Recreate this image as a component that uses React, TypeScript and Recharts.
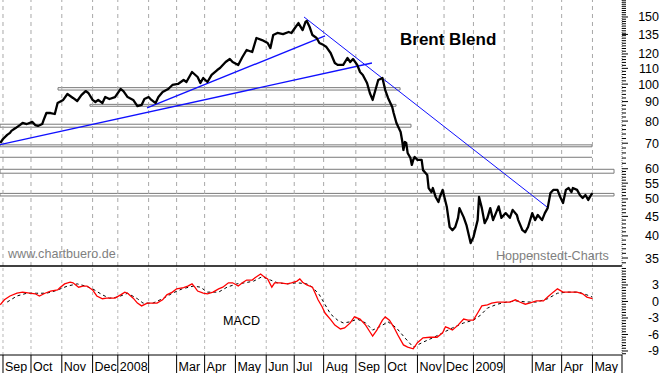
import React from 'react';
import { ComposedChart, Line, XAxis, YAxis, ReferenceLine, ReferenceArea } from 'recharts';

// ---------- axes / categories (x = trading-day index, 0 = first trading day of Sep 2007) ----------
const X_DOMAIN: [number, number] = [-2.14, 442.1];
const monthStarts = [0, 20, 42, 64, 82, 104, 124, 144, 166, 188, 208, 229, 252, 273, 296, 315, 336, 358, 378, 399, 421];
const monthLabels = ['Sep', 'Oct', 'Nov', 'Dec', '2008', '', 'Mar', 'Apr', 'May', 'Jun', 'Jul', 'Aug', 'Sep', 'Oct', 'Nov', 'Dec', '2009', '', 'Mar', 'Apr', 'May'];

const PRICE_DOMAIN: [number, number] = [33.35, 166.2];
const priceLabels = [35, 40, 45, 50, 55, 60, 70, 80, 90, 100, 110, 120, 135, 150];
const MACD_DOMAIN: [number, number] = [-9.73, 6.45];
const macdLabels = [3, 0, -3, -6, -9];

// ---------- series: [trading day, value] ----------
const price: [number, number][] = [
  [-2, 70.1], [0, 71.8], [3, 73.6], [5, 74.5], [6, 75.4], [9, 76.7], [12, 78.1], [14, 79.1], [17, 78.6], [21, 79.6],
  [23, 78.1], [25, 77.7], [28, 78.6], [29, 80.5], [31, 84.0], [34, 84.0], [37, 83.5], [39, 89.2], [43, 90.9], [46, 94.2],
  [50, 92.0], [53, 90.3], [56, 93.6], [59, 95.9], [61, 94.8], [64, 90.9], [66, 89.8], [68, 90.9], [71, 89.2], [73, 92.5],
  [76, 91.4], [80, 92.5], [84, 97.1], [86, 95.9], [89, 92.5], [93, 90.9], [96, 87.6], [99, 88.2], [101, 91.4], [104, 92.5],
  [106, 90.9], [109, 89.2], [111, 92.5], [114, 95.4], [118, 97.1], [121, 99.5], [125, 100.1], [129, 102.5], [131, 101.3], [135, 107.6],
  [139, 104.4], [141, 100.7], [143, 103.8], [146, 101.3], [149, 105.7], [153, 108.9], [155, 110.2], [159, 114.3], [162, 116.4], [164, 114.3],
  [168, 112.3], [171, 117.8], [174, 122.9], [178, 121.4], [181, 132.1], [185, 130.5], [189, 128.2], [191, 124.3], [193, 134.5], [196, 136.2],
  [200, 135.3], [204, 137.0], [206, 136.2], [209, 141.2], [211, 144.6], [214, 138.6], [216, 145.5], [217, 146.4], [219, 141.2], [221, 134.5],
  [224, 132.1], [226, 128.2], [229, 126.6], [231, 125.1], [234, 120.7], [237, 113.6], [239, 112.3], [243, 112.3], [246, 117.1], [248, 114.3],
  [250, 116.4], [253, 112.3], [255, 107.6], [257, 105.7], [260, 100.7], [262, 94.8], [264, 90.9], [266, 96.5], [268, 102.5], [271, 103.8],
  [273, 96.5], [275, 92.0], [278, 87.1], [279, 84.0], [281, 79.1], [284, 74.9], [285, 71.4], [286, 67.2], [287, 70.5], [288, 70.1],
  [289, 66.0], [291, 64.0], [292, 61.4], [293, 63.3], [294, 64.4], [296, 63.3], [299, 63.3], [300, 59.5], [303, 57.8], [304, 53.4],
  [306, 52.1], [307, 53.4], [309, 50.6], [311, 49.1], [312, 50.6], [314, 52.8], [317, 47.6], [319, 42.2], [321, 41.4], [323, 42.2],
  [325, 44.6], [326, 47.3], [329, 44.8], [331, 42.7], [334, 38.3], [336, 39.7], [339, 44.0], [340, 50.6], [342, 47.3], [344, 43.2],
  [346, 44.6], [348, 47.3], [350, 44.0], [354, 47.8], [356, 44.6], [359, 45.9], [362, 44.6], [364, 46.8], [367, 45.4], [368, 44.0],
  [371, 41.4], [373, 40.9], [375, 42.2], [378, 45.9], [380, 44.0], [382, 45.4], [385, 44.0], [387, 45.9], [389, 47.3], [391, 51.8],
  [393, 52.8], [396, 52.8], [398, 50.6], [400, 48.8], [402, 52.8], [404, 53.4], [406, 52.1], [407, 53.4], [410, 52.8], [412, 51.2],
  [414, 50.3], [416, 51.2], [418, 49.7], [420, 51.2], [421, 51.8],
];

const macd: [number, number][] = [
  [-2, -0.6], [1, 0.3], [5, 1.0], [10, 1.5], [14, 1.7], [19, 1.5], [23, 1.4], [26, 1.0], [30, 1.5], [34, 1.9],
  [39, 2.1], [41, 2.6], [44, 3.2], [48, 3.5], [50, 3.4], [54, 2.6], [57, 2.8], [60, 2.8], [64, 2.1], [67, 1.0],
  [71, 0.5], [74, 0.6], [80, 0.6], [84, 1.2], [87, 1.7], [89, 1.5], [93, 0.6], [96, -0.3], [99, -0.8], [103, -0.3],
  [106, -0.3], [110, -0.3], [114, 0.3], [117, 1.2], [121, 1.7], [124, 2.3], [129, 2.5], [132, 2.8], [135, 3.2], [137, 2.6],
  [139, 1.9], [143, 1.5], [146, 1.4], [150, 1.7], [154, 2.3], [157, 2.6], [161, 3.4], [164, 3.4], [168, 2.8], [171, 3.4],
  [174, 3.9], [178, 3.9], [180, 4.3], [184, 5.0], [186, 4.6], [189, 4.1], [192, 2.6], [194, 3.4], [198, 3.4], [203, 3.2],
  [206, 3.4], [210, 3.7], [212, 4.1], [214, 3.5], [217, 3.0], [221, 2.6], [223, 1.5], [225, 0.3], [228, -1.0], [230, -2.1],
  [234, -3.3], [237, -4.3], [241, -5.0], [244, -4.8], [248, -3.9], [251, -2.8], [255, -3.2], [259, -4.3], [262, -5.5], [264, -6.3],
  [267, -5.2], [271, -3.4], [273, -2.8], [276, -3.4], [279, -4.6], [282, -6.1], [286, -7.9], [289, -8.3], [293, -8.6], [296, -7.5],
  [300, -6.6], [305, -6.5], [310, -6.5], [314, -5.7], [316, -4.6], [318, -4.8], [321, -5.2], [325, -4.3], [329, -3.2], [332, -3.4],
  [336, -3.4], [339, -2.1], [342, -0.8], [346, -0.6], [349, -0.3], [353, -0.1], [357, -0.1], [362, -0.1], [366, 0.3], [369, -0.1],
  [373, -0.5], [376, -0.3], [381, 0.1], [386, 0.1], [389, 0.8], [393, 1.7], [396, 2.3], [400, 1.7], [405, 1.7], [410, 1.7],
  [414, 1.4], [417, 0.8], [421, 0.5],
];

const signal: [number, number][] = [
  [3, -0.1], [10, 1.0], [17, 1.5], [24, 1.5], [31, 1.5], [37, 1.9], [46, 2.8], [53, 3.2], [59, 2.8], [64, 2.3],
  [71, 1.2], [76, 0.6], [82, 0.8], [89, 1.5], [96, 0.5], [100, -0.3], [107, -0.3], [114, 0.5], [121, 1.5], [128, 2.3],
  [136, 2.8], [141, 2.6], [146, 1.7], [154, 1.7], [160, 2.6], [167, 3.2], [173, 3.4], [179, 3.7], [185, 4.5], [191, 3.9],
  [196, 3.4], [203, 3.2], [210, 3.4], [217, 3.2], [221, 2.6], [226, 1.2], [234, -2.3], [239, -3.4], [243, -3.9], [248, -3.7],
  [253, -3.2], [259, -3.9], [264, -5.2], [269, -4.6], [275, -3.7], [281, -4.8], [287, -6.6], [293, -8.3], [300, -7.4], [307, -6.6],
  [314, -5.7], [321, -4.8], [329, -3.9], [336, -3.4], [341, -2.5], [346, -1.2], [353, -0.5], [360, -0.1], [367, 0.1], [374, -0.1],
  [381, -0.1], [389, 0.5], [396, 1.5], [403, 1.7], [411, 1.7], [417, 1.2], [421, 0.8],
];

// trend lines: [startDay, startPrice, endDay, endPrice]
const trendLower = [-2.1, 69.4, 263.5, 113.6];
const trendUpper = [102.9, 86.6, 230, 133.8];
const trendDown = [215, 150.0, 388.6, 47.6];

// horizontal support / resistance bands
const bandStart = [39.3, 62.1, -2.14, -2.14, -2.14, -2.14];
const bandEnd = [283.6, 280.7, 291.4, 420.7, 436.4, 436.4];
const bandLow = [96.5, 87.5, 77.1, 68.5, 58.4, 50.9];
const bandHigh = [97.9, 88.5, 78.5, 69.3, 59.8, 51.7];
const singleLevel = 64.3;
const singleLevelEnd = 420.7;

// ---------- helpers ----------
const toPts = (arr: [number, number][], key: string) => arr.map(([t, v]) => ({ t, [key]: v }));
const seg = (a: number[]) => [{ t: a[0], p: a[1] }, { t: a[2], p: a[3] }];

const priceData = toPts(price, 'p');
const macdData = toPts(macd, 'v');
const signalData = toPts(signal, 'v');

const priceTicks: number[] = [];
for (let v = 34; v <= 60; v += 1) priceTicks.push(v);
for (let v = 62; v <= 166; v += 2) priceTicks.push(v);
priceLabels.forEach((v) => { if (!priceTicks.includes(v)) priceTicks.push(v); });
priceTicks.sort((a, b) => a - b);

const macdTicks: number[] = [];
for (let v = -9.5; v <= 6.0; v += 0.5) macdTicks.push(v);

const FONT = '"Liberation Sans", Arial, sans-serif';

function PriceTick(props: any) {
  const { x, y, payload } = props;
  const v = payload.value;
  const major = priceLabels.includes(v);
  return (
    <g>
      <line x1={x} x2={x + (major ? 6 : 4)} y1={y} y2={y} stroke="#000" strokeWidth={1} />
      {major && (
        <text x={x + 37} y={y + 4.5} textAnchor="end" fontSize={12.5} fill="#000" fontFamily={FONT}>{v}</text>
      )}
    </g>
  );
}

function MacdTick(props: any) {
  const { x, y, payload } = props;
  const v = payload.value;
  const major = macdLabels.includes(v);
  return (
    <g>
      <line x1={x} x2={x + (major ? 6 : 4)} y1={y} y2={y} stroke="#000" strokeWidth={1} />
      {major && (
        <text x={x + 37} y={y + 4.5} textAnchor="end" fontSize={12.5} fill="#000" fontFamily={FONT}>{v}</text>
      )}
    </g>
  );
}

function MonthTick(props: any) {
  const { x, y, payload } = props;
  const i = monthStarts.indexOf(payload.value);
  const label = i >= 0 ? monthLabels[i] : '';
  return (
    <g>
      <line x1={x} x2={x} y1={y} y2={y + 18} stroke="#000" strokeWidth={1} />
      {label && (
        <text x={x + 2} y={y + 16} fontSize={12.5} fill="#000" fontFamily={FONT}>{label}</text>
      )}
    </g>
  );
}

export default function App() {
  return (
    <div style={{ position: 'absolute', left: 0, top: 0, width: 663, height: 373, background: '#fff', overflow: 'hidden' }}>
      <div style={{ position: 'absolute', left: 0, top: 0 }}>
        <ComposedChart width={663} height={267} margin={{ top: 0, right: 0, bottom: 1, left: 0 }}>
          <XAxis type="number" dataKey="t" domain={X_DOMAIN} allowDataOverflow hide />
          <YAxis
            orientation="right"
            width={41}
            scale="log"
            domain={PRICE_DOMAIN}
            allowDataOverflow
            ticks={priceTicks}
            interval={0}
            tickSize={0}
            tickMargin={0}
            tickLine={false}
            axisLine={{ stroke: '#777', strokeDasharray: '1 1' }}
            tick={(p: any) => <PriceTick {...p} />}
          />
          {monthStarts.map((m) => (
            <ReferenceLine key={'g' + m} x={m} stroke="#a8a8a8" strokeDasharray="4 4" />
          ))}
          {bandLow.map((lo, i) => (
            <ReferenceArea
              key={'b' + i}
              x1={bandStart[i]}
              x2={bandEnd[i]}
              y1={lo}
              y2={bandHigh[i]}
              fill="none"
              fillOpacity={0}
              stroke="#7a7a7a"
              strokeWidth={1}
            />
          ))}
          <ReferenceLine
            segment={[{ x: X_DOMAIN[0], y: singleLevel }, { x: singleLevelEnd, y: singleLevel }]}
            stroke="#7a7a7a"
            strokeWidth={1}
          />
          <ReferenceLine y={PRICE_DOMAIN[0]} stroke="#000" strokeWidth={1.5} />
          <Line data={seg(trendLower)} dataKey="p" stroke="#1010ff" strokeWidth={1.4} dot={false} activeDot={false} isAnimationActive={false} />
          <Line data={seg(trendUpper)} dataKey="p" stroke="#1010ff" strokeWidth={1.4} dot={false} activeDot={false} isAnimationActive={false} />
          <Line data={seg(trendDown)} dataKey="p" stroke="#1010ff" strokeWidth={1} dot={false} activeDot={false} isAnimationActive={false} />
          <Line data={priceData} dataKey="p" stroke="#000" strokeWidth={2.3} dot={false} activeDot={false} isAnimationActive={false} strokeLinejoin="round" />
        </ComposedChart>
      </div>
      <div style={{ position: 'absolute', left: 0, top: 266 }}>
        <ComposedChart width={663} height={107} margin={{ top: 0, right: 0, bottom: 0, left: 0 }}>
          <XAxis
            type="number"
            dataKey="t"
            domain={X_DOMAIN}
            allowDataOverflow
            height={18}
            ticks={[...monthStarts, X_DOMAIN[1]]}
            interval={0}
            tickSize={0}
            tickMargin={0}
            tickLine={false}
            axisLine={{ stroke: '#000' }}
            tick={(p: any) => <MonthTick {...p} />}
          />
          <YAxis
            orientation="right"
            width={41}
            domain={MACD_DOMAIN}
            allowDataOverflow
            ticks={macdTicks}
            interval={0}
            tickSize={0}
            tickMargin={0}
            tickLine={false}
            axisLine={{ stroke: '#777', strokeDasharray: '1 1' }}
            tick={(p: any) => <MacdTick {...p} />}
          />
          {monthStarts.map((m) => (
            <ReferenceLine key={'m' + m} x={m} stroke="#b8b8b8" strokeDasharray="3 3" />
          ))}
          <Line data={signalData} dataKey="v" stroke="#000" strokeWidth={1} strokeDasharray="3 3" dot={false} activeDot={false} isAnimationActive={false} />
          <Line data={macdData} dataKey="v" stroke="#ff0000" strokeWidth={1.3} dot={false} activeDot={false} isAnimationActive={false} />
        </ComposedChart>
      </div>
      <svg width={663} height={373} style={{ position: 'absolute', left: 0, top: 0, pointerEvents: 'none' }}>
        <text x={400} y={45} fontSize={17} fontWeight="bold" fill="#000" fontFamily={FONT}>Brent Blend</text>
        <text x={8} y={258} fontSize={12.6} fill="#7f7f7f" fontFamily={FONT}>www.chartbuero.de</text>
        <text x={496} y={260} fontSize={12.6} fill="#7f7f7f" fontFamily={FONT}>Hoppenstedt-Charts</text>
        <text x={223} y={325} fontSize={12.6} fill="#000" fontFamily={FONT}>MACD</text>
      </svg>
    </div>
  );
}
